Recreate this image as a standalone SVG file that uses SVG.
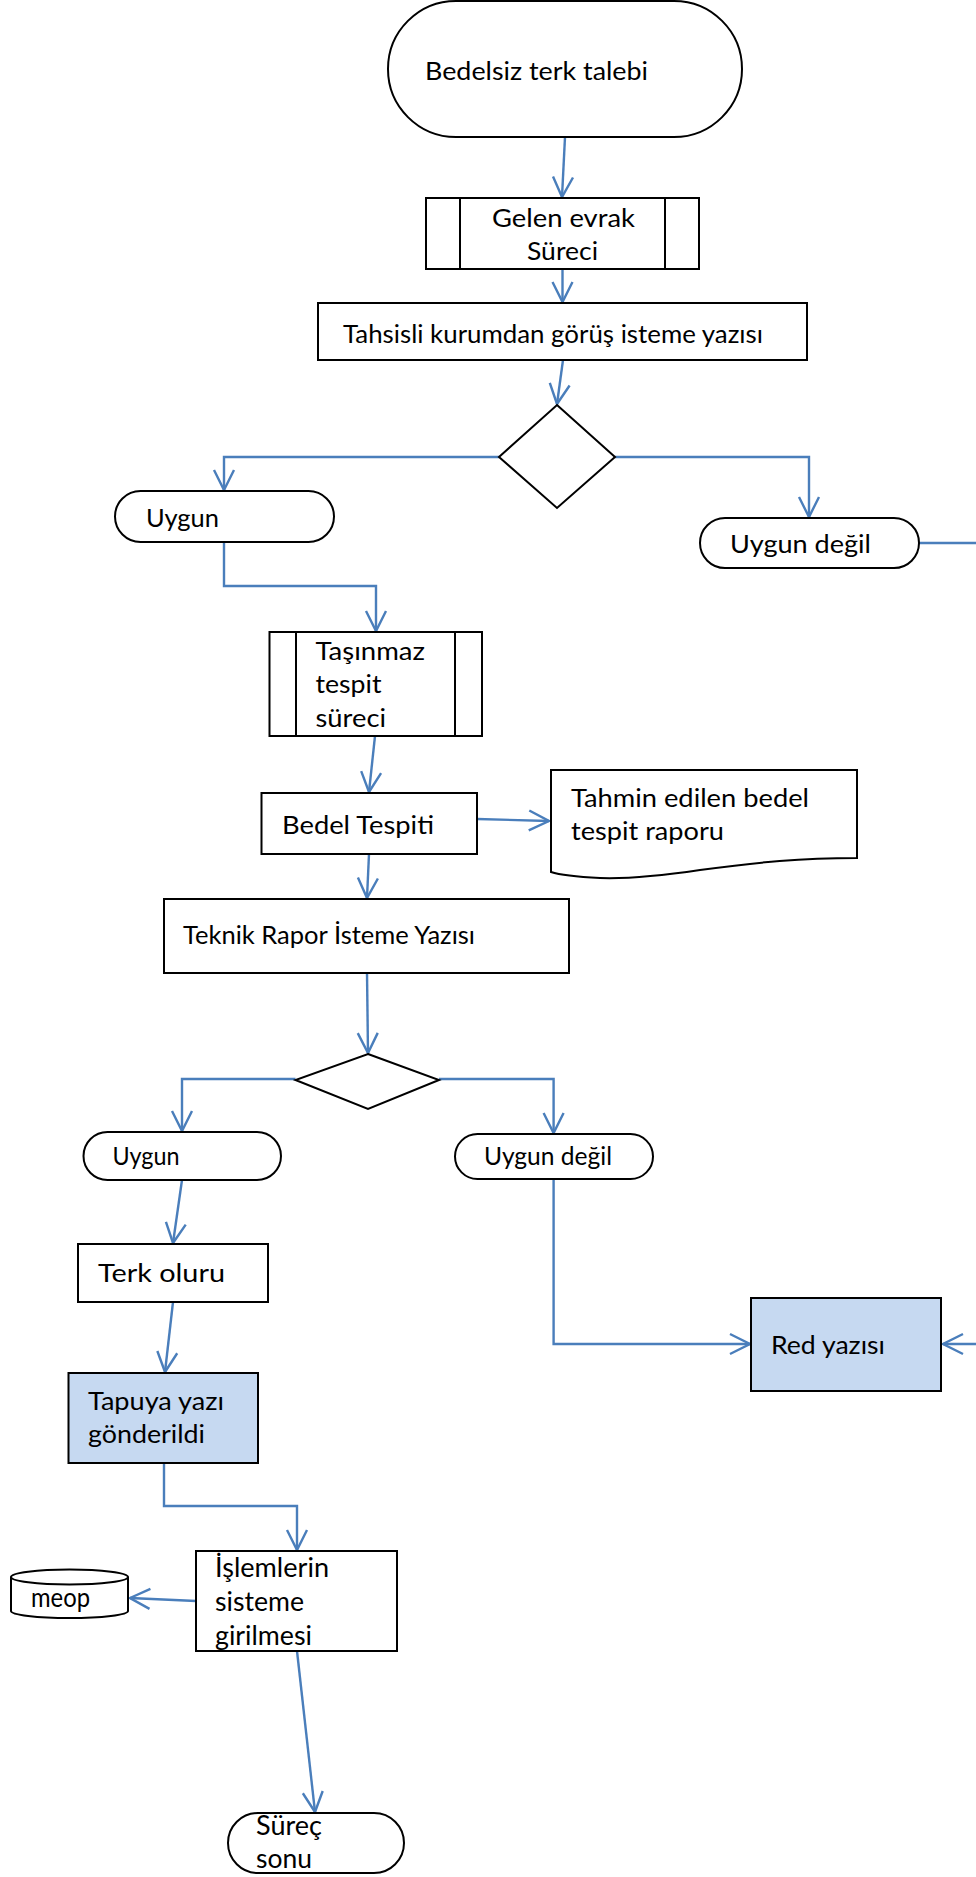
<svg xmlns="http://www.w3.org/2000/svg" width="976" height="1877" viewBox="0 0 976 1877">
<style>
.s{fill:#fff;stroke:#000;stroke-width:2}
.b{fill:#C6D9F1;stroke:#000;stroke-width:2}
.l{fill:none;stroke:#000;stroke-width:2}
.t{font-family:Lato,"Liberation Sans",sans-serif;font-size:25.5px;fill:#000}
.t2{font-family:Lato,"Liberation Sans",sans-serif;font-size:26px;fill:#000}
.c{fill:none;stroke:#4A7EBB;stroke-width:2.4}
</style>
<defs>
<marker id="a" markerUnits="userSpaceOnUse" markerWidth="26" markerHeight="26" viewBox="-23 -13 26 26" refX="0" refY="0" orient="auto">
<path d="M-20,-10 L0,0 L-20,10" fill="none" stroke="#4A7EBB" stroke-width="2.4"/>
</marker>
</defs>
<g id="connectors">
<path class="c" marker-end="url(#a)" d="M565,137 L562,197"/>
<path class="c" marker-end="url(#a)" d="M562.5,269 L562.5,302"/>
<path class="c" marker-end="url(#a)" d="M563,360 L557,404"/>
<path class="c" marker-end="url(#a)" d="M499,457 H224 V490"/>
<path class="c" marker-end="url(#a)" d="M615,457 H809 V517"/>
<path class="c" marker-end="url(#a)" d="M919,543 H990 V1344 H943"/>
<path class="c" marker-end="url(#a)" d="M224,542 V586 H376 V631"/>
<path class="c" marker-end="url(#a)" d="M375,736 L369,792"/>
<path class="c" marker-end="url(#a)" d="M477,819 L549,821"/>
<path class="c" marker-end="url(#a)" d="M369,854 L367,898"/>
<path class="c" marker-end="url(#a)" d="M367,973 L368,1053"/>
<path class="c" marker-end="url(#a)" d="M295.5,1079 H182 V1131"/>
<path class="c" marker-end="url(#a)" d="M439,1079 H553.6 V1133"/>
<path class="c" marker-end="url(#a)" d="M182,1180 L173,1243"/>
<path class="c" marker-end="url(#a)" d="M173,1302 L165,1372"/>
<path class="c" marker-end="url(#a)" d="M553.6,1179 V1344 H750"/>
<path class="c" marker-end="url(#a)" d="M164,1463 V1506 H297 V1550"/>
<path class="c" marker-end="url(#a)" d="M196,1601 L130,1598"/>
<path class="c" marker-end="url(#a)" d="M297,1651 L315,1812"/>
</g>
<g id="start">
<rect class="s" x="388" y="1" width="354" height="136" rx="68" ry="68"/>
<text class="t" x="425" y="80" textLength="223" lengthAdjust="spacingAndGlyphs">Bedelsiz terk talebi</text>
</g>
<g id="gelen">
<rect class="s" x="426" y="198" width="273" height="71"/>
<line class="l" x1="460" y1="198" x2="460" y2="269"/>
<line class="l" x1="665" y1="198" x2="665" y2="269"/>
<text class="t" x="492" y="227" textLength="143" lengthAdjust="spacingAndGlyphs">Gelen evrak</text>
<text class="t" x="527" y="260" textLength="71" lengthAdjust="spacingAndGlyphs">Süreci</text>
</g>
<g id="tahsisli">
<rect class="s" x="318" y="303" width="489" height="57"/>
<text class="t" x="343" y="343" textLength="420" lengthAdjust="spacingAndGlyphs">Tahsisli kurumdan görüş isteme yazısı</text>
</g>
<g id="karar1">
<polygon class="s" points="557,405 615,457 557,508 499,457"/>
</g>
<g id="uygun1">
<rect class="s" x="115" y="491" width="219" height="51" rx="25.5" ry="25.5"/>
<text class="t" x="146" y="527" textLength="73" lengthAdjust="spacingAndGlyphs">Uygun</text>
</g>
<g id="uygundegil1">
<rect class="s" x="700" y="518" width="219" height="50" rx="25" ry="25"/>
<text class="t" x="730" y="553" textLength="141" lengthAdjust="spacingAndGlyphs">Uygun değil</text>
</g>
<g id="tasinmaz">
<rect class="s" x="269.5" y="632" width="212.5" height="104"/>
<line class="l" x1="296" y1="632" x2="296" y2="736"/>
<line class="l" x1="455" y1="632" x2="455" y2="736"/>
<text class="t" x="315.5" y="660" textLength="109.5" lengthAdjust="spacingAndGlyphs">Taşınmaz</text>
<text class="t" x="315.5" y="693" textLength="66" lengthAdjust="spacingAndGlyphs">tespit</text>
<text class="t" x="315.5" y="727" textLength="70.5" lengthAdjust="spacingAndGlyphs">süreci</text>
</g>
<g id="bedel">
<rect class="s" x="261.5" y="793" width="215.5" height="61"/>
<text class="t" x="282" y="834" textLength="152" lengthAdjust="spacingAndGlyphs">Bedel Tespiti</text>
</g>
<g id="rapor">
<path class="s" d="M551,770 H857 V858 C800,858 760,862 700,870 C660,876 630,879 600,878 C580,877 560,875 551,872 Z"/>
<text class="t" x="571" y="807" textLength="238" lengthAdjust="spacingAndGlyphs">Tahmin edilen bedel</text>
<text class="t" x="571" y="840" textLength="153" lengthAdjust="spacingAndGlyphs">tespit raporu</text>
</g>
<g id="teknik">
<rect class="s" x="164" y="899" width="405" height="74"/>
<text class="t" x="183" y="944" textLength="292" lengthAdjust="spacingAndGlyphs">Teknik Rapor İsteme Yazısı</text>
</g>
<g id="karar2">
<polygon class="s" points="368,1054 439,1080 368,1109 295.5,1080"/>
</g>
<g id="uygun2">
<rect class="s" x="83.5" y="1132" width="197.5" height="48" rx="24" ry="24"/>
<text class="t" x="112.5" y="1165" textLength="67" lengthAdjust="spacingAndGlyphs">Uygun</text>
</g>
<g id="uygundegil2">
<rect class="s" x="455" y="1134" width="198" height="45" rx="22.5" ry="22.5"/>
<text class="t" x="484" y="1165" textLength="128" lengthAdjust="spacingAndGlyphs">Uygun değil</text>
</g>
<g id="terk">
<rect class="s" x="78" y="1244" width="190" height="58"/>
<text class="t" x="98" y="1282" textLength="127" lengthAdjust="spacingAndGlyphs">Terk oluru</text>
</g>
<g id="tapuya">
<rect class="b" x="68.5" y="1373" width="189.5" height="90"/>
<text class="t" x="88" y="1410" textLength="136" lengthAdjust="spacingAndGlyphs">Tapuya yazı</text>
<text class="t" x="88" y="1443" textLength="117" lengthAdjust="spacingAndGlyphs">gönderildi</text>
</g>
<g id="red">
<rect class="b" x="751" y="1298" width="190" height="93"/>
<text class="t" x="771" y="1354" textLength="114" lengthAdjust="spacingAndGlyphs">Red yazısı</text>
</g>
<g id="islemler">
<rect class="s" x="196" y="1551" width="201" height="100"/>
<text class="t2" x="215" y="1577" textLength="114" lengthAdjust="spacingAndGlyphs">İşlemlerin</text>
<text class="t2" x="215" y="1611" textLength="89" lengthAdjust="spacingAndGlyphs">sisteme</text>
<text class="t2" x="215" y="1645" textLength="97" lengthAdjust="spacingAndGlyphs">girilmesi</text>
</g>
<g id="meop">
<path class="s" d="M11,1577 A58.5,7.5 0 0 1 128,1577 V1611 A58.5,7 0 0 1 11,1611 Z"/>
<path class="l" d="M11,1577 A58.5,7.5 0 0 0 128,1577"/>
<text class="t2" x="31" y="1607" textLength="59" lengthAdjust="spacingAndGlyphs">meop</text>
</g>
<g id="son">
<rect class="s" x="228" y="1813" width="176" height="60" rx="30" ry="30"/>
<text class="t2" x="256" y="1835" textLength="66" lengthAdjust="spacingAndGlyphs">Süreç</text>
<text class="t2" x="256" y="1868" textLength="56" lengthAdjust="spacingAndGlyphs">sonu</text>
</g>
</svg>
